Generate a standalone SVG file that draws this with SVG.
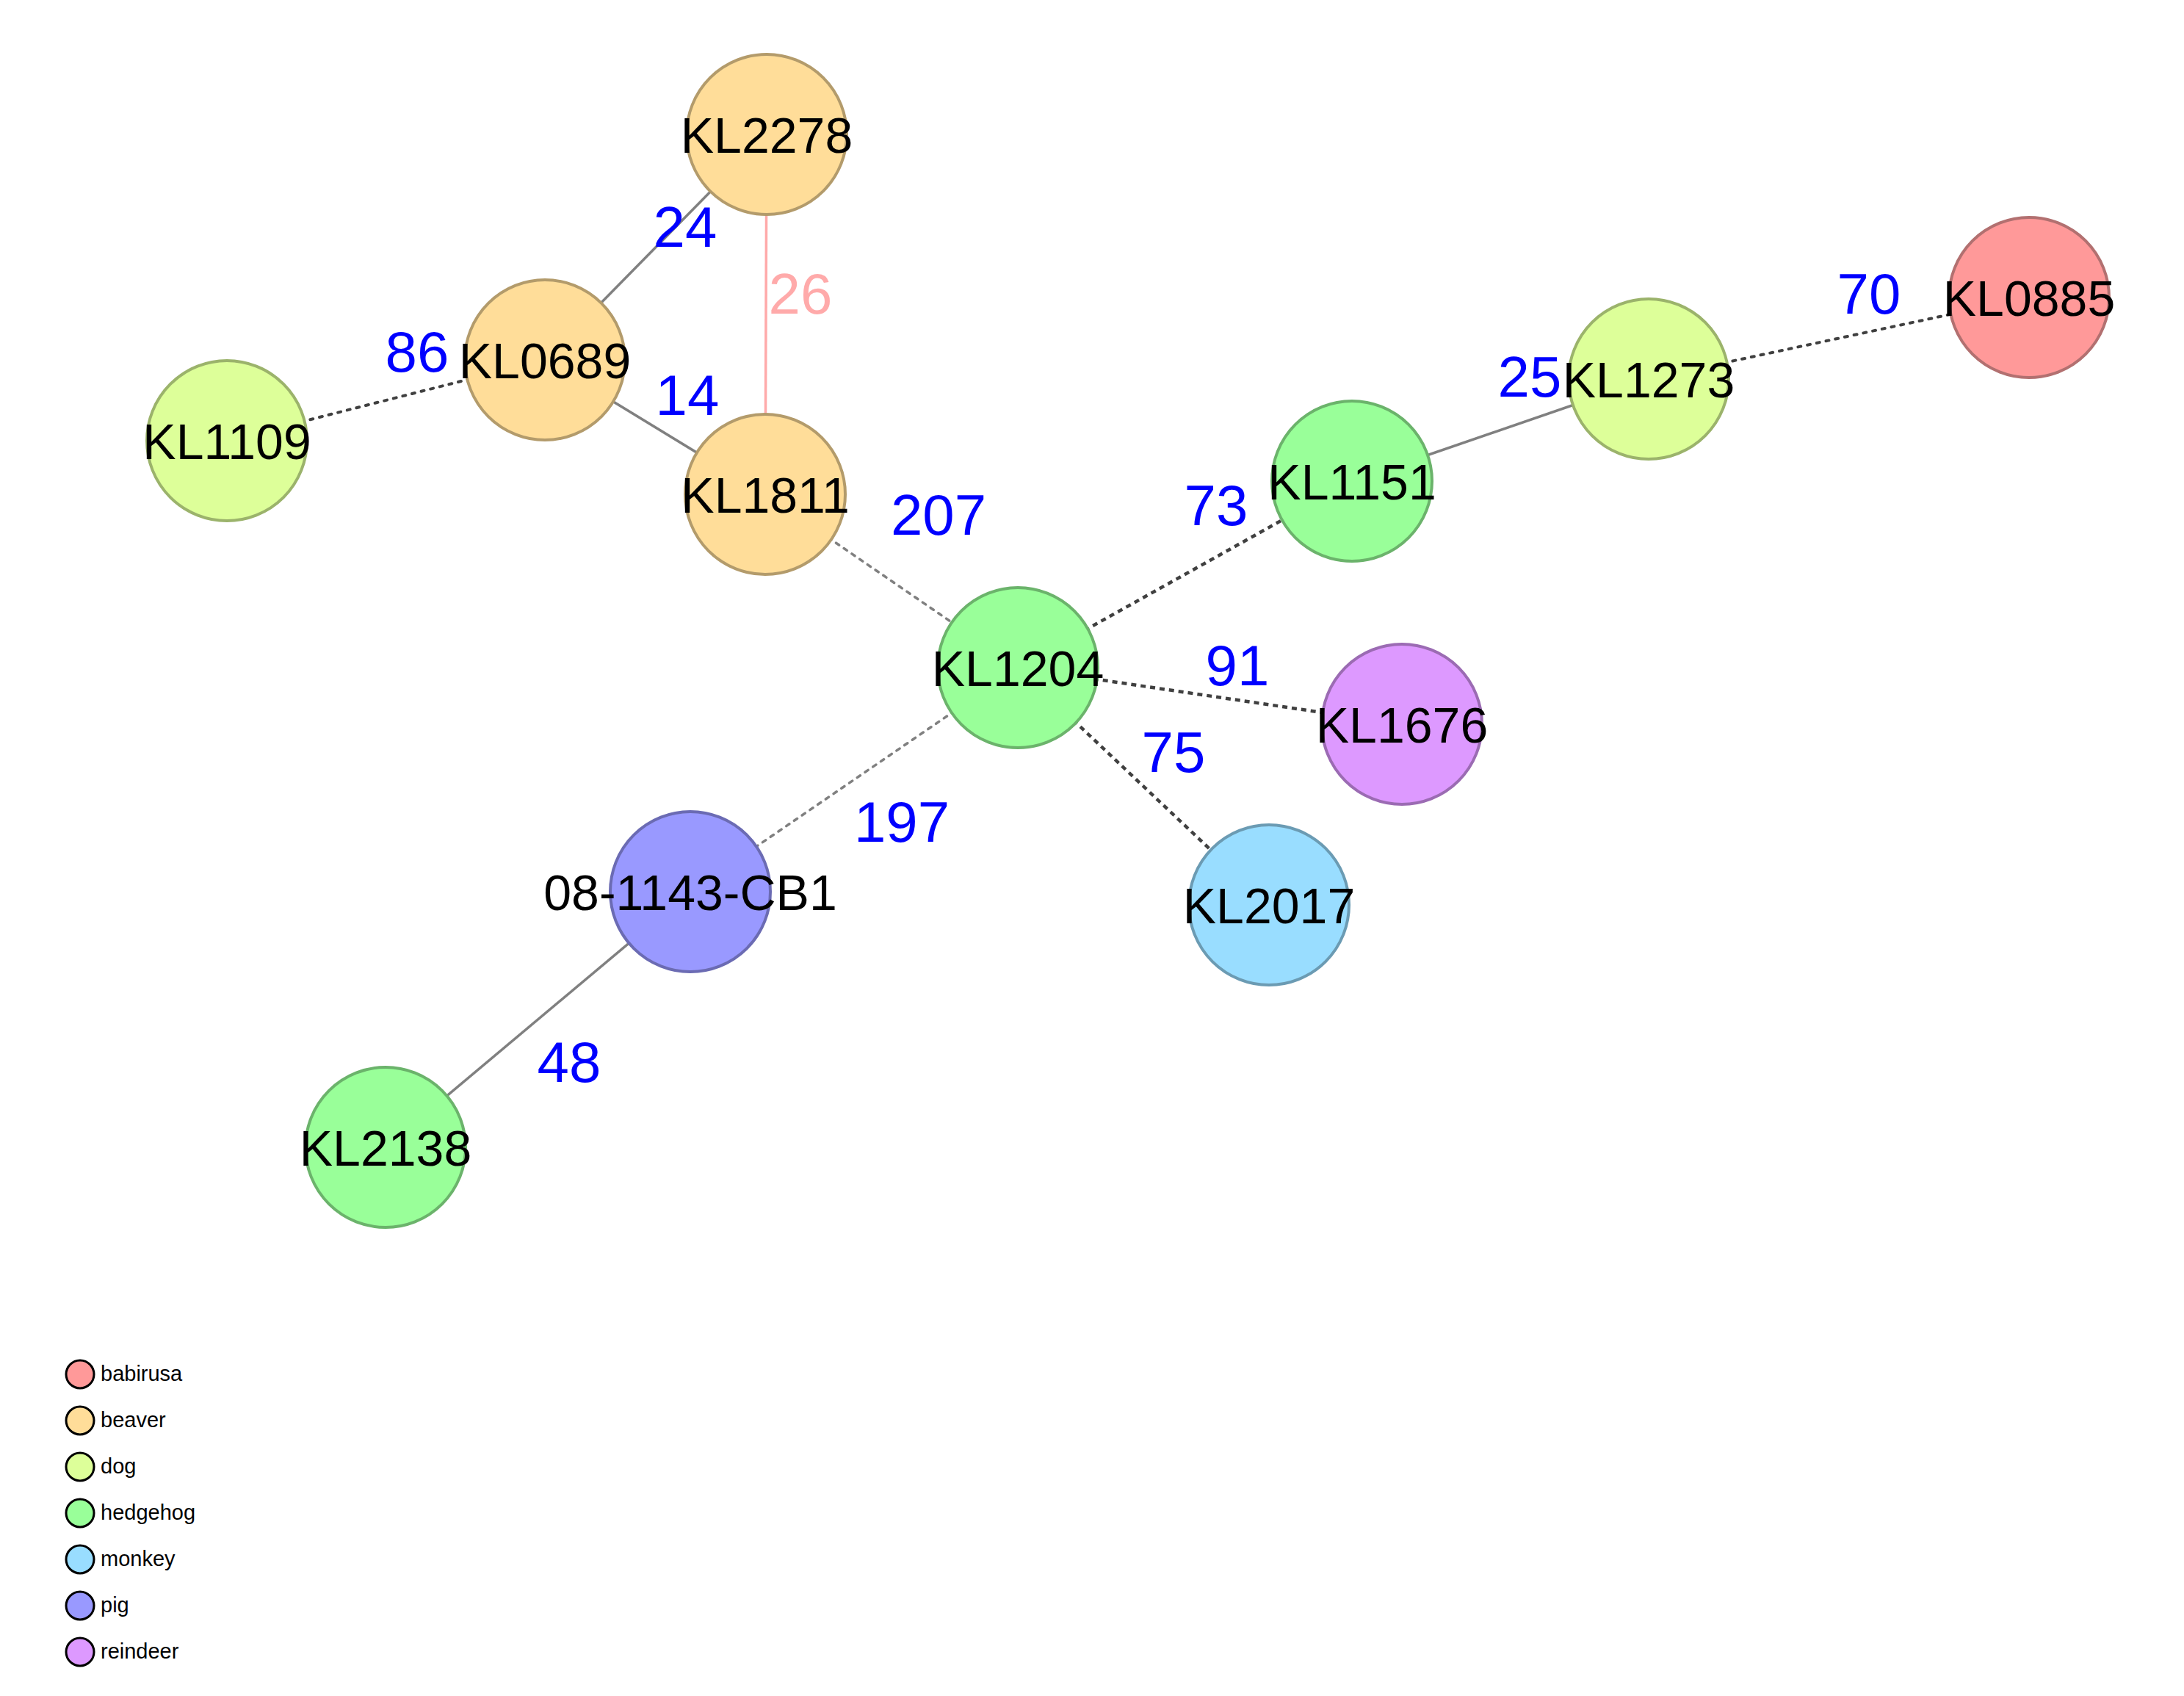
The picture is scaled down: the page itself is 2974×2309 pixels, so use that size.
<svg xmlns="http://www.w3.org/2000/svg" width="2974" height="2309" viewBox="0 0 2974 2309">
<style>
text{font-family:"Liberation Sans",Arial,sans-serif}
.nl{font-size:68px;fill:#000;text-anchor:middle}
.el{font-size:78px;fill:#0000FF;text-anchor:middle}
.lg{font-size:29px;fill:#000}
.solid{stroke:#808080;stroke-width:3.5;fill:none}
.pink{stroke:#FFAAAA;stroke-width:3.5;fill:none}
.dotd{stroke:#404040;stroke-width:4;fill:none;stroke-dasharray:4 9;stroke-linecap:round}
.dashd{stroke:#404040;stroke-width:4.5;fill:none;stroke-dasharray:7 6}
.dotl{stroke:#808080;stroke-width:3.5;fill:none;stroke-dasharray:5 8;stroke-linecap:round}
.node{stroke-width:4}
.babirusa{fill:#FF9999;stroke:#B27070}
.beaver{fill:#FFDD99;stroke:#B39B6B}
.dog{fill:#DDFF99;stroke:#9BB36B}
.hedgehog{fill:#99FF99;stroke:#6BB36B}
.monkey{fill:#99DDFF;stroke:#6B9BB3}
.pig{fill:#9999FF;stroke:#6B6BB3}
.reindeer{fill:#DD99FF;stroke:#9B6BB3}
.lgc{stroke:#000;stroke-width:3}
</style>
<rect width="2974" height="2309" fill="#FFFFFF"/>
<g id="connectors">
<line class="solid" x1="742" y1="490" x2="1044" y2="183"/>
<line class="pink" x1="1044" y1="183" x2="1042" y2="673"/>
<line class="solid" x1="742" y1="490" x2="1042" y2="673"/>
<line class="dotd" x1="309" y1="600" x2="742" y2="490"/>
<line class="dotl" x1="1042" y1="673" x2="1386" y2="909"/>
<line class="dashd" x1="1386" y1="909" x2="1841" y2="655"/>
<line class="solid" x1="1841" y1="655" x2="2245" y2="516"/>
<line class="dotd" x1="2245" y1="516" x2="2763" y2="405"/>
<line class="dashd" x1="1386" y1="909" x2="1909" y2="986"/>
<line class="dashd" x1="1386" y1="909" x2="1728" y2="1232"/>
<line class="dotl" x1="1386" y1="909" x2="940" y2="1214"/>
<line class="solid" x1="940" y1="1214" x2="525" y2="1562"/>
</g>
<g id="edge-labels">
<text class="el" x="933" y="336">24</text>
<text class="el" x="1090" y="427" style="fill:#FFAAAA">26</text>
<text class="el" x="936" y="565">14</text>
<text class="el" x="568" y="506">86</text>
<text class="el" x="1278" y="728">207</text>
<text class="el" x="1656" y="715">73</text>
<text class="el" x="2083" y="540">25</text>
<text class="el" x="2545" y="427">70</text>
<text class="el" x="1685" y="933">91</text>
<text class="el" x="1598" y="1051">75</text>
<text class="el" x="1228" y="1146">197</text>
<text class="el" x="775" y="1473">48</text>
</g>
<g id="node-KL2278"><circle class="node beaver" cx="1044" cy="183" r="109"/><text class="nl" x="1044" y="208">KL2278</text></g>
<g id="node-KL0689"><circle class="node beaver" cx="742" cy="490" r="109"/><text class="nl" x="742" y="515">KL0689</text></g>
<g id="node-KL1109"><circle class="node dog" cx="309" cy="600" r="109"/><text class="nl" x="309" y="625">KL1109</text></g>
<g id="node-KL1811"><circle class="node beaver" cx="1042" cy="673" r="109"/><text class="nl" x="1042" y="698">KL1811</text></g>
<g id="node-KL1204"><circle class="node hedgehog" cx="1386" cy="909" r="109"/><text class="nl" x="1386" y="934">KL1204</text></g>
<g id="node-KL1151"><circle class="node hedgehog" cx="1841" cy="655" r="109"/><text class="nl" x="1841" y="680">KL1151</text></g>
<g id="node-KL1273"><circle class="node dog" cx="2245" cy="516" r="109"/><text class="nl" x="2245" y="541">KL1273</text></g>
<g id="node-KL0885"><circle class="node babirusa" cx="2763" cy="405" r="109"/><text class="nl" x="2763" y="430">KL0885</text></g>
<g id="node-KL1676"><circle class="node reindeer" cx="1909" cy="986" r="109"/><text class="nl" x="1909" y="1011">KL1676</text></g>
<g id="node-KL2017"><circle class="node monkey" cx="1728" cy="1232" r="109"/><text class="nl" x="1728" y="1257">KL2017</text></g>
<g id="node-08-1143-CB1"><circle class="node pig" cx="940" cy="1214" r="109"/><text class="nl" x="940" y="1239">08-1143-CB1</text></g>
<g id="node-KL2138"><circle class="node hedgehog" cx="525" cy="1562" r="109"/><text class="nl" x="525" y="1587">KL2138</text></g>
<g id="legend">
<circle class="lgc babirusa" cx="109" cy="1871" r="19"/><text class="lg" x="137" y="1880">babirusa</text>
<circle class="lgc beaver" cx="109" cy="1934" r="19"/><text class="lg" x="137" y="1943">beaver</text>
<circle class="lgc dog" cx="109" cy="1997" r="19"/><text class="lg" x="137" y="2006">dog</text>
<circle class="lgc hedgehog" cx="109" cy="2060" r="19"/><text class="lg" x="137" y="2069">hedgehog</text>
<circle class="lgc monkey" cx="109" cy="2123" r="19"/><text class="lg" x="137" y="2132">monkey</text>
<circle class="lgc pig" cx="109" cy="2186" r="19"/><text class="lg" x="137" y="2195">pig</text>
<circle class="lgc reindeer" cx="109" cy="2249" r="19"/><text class="lg" x="137" y="2258">reindeer</text>
</g>
</svg>
